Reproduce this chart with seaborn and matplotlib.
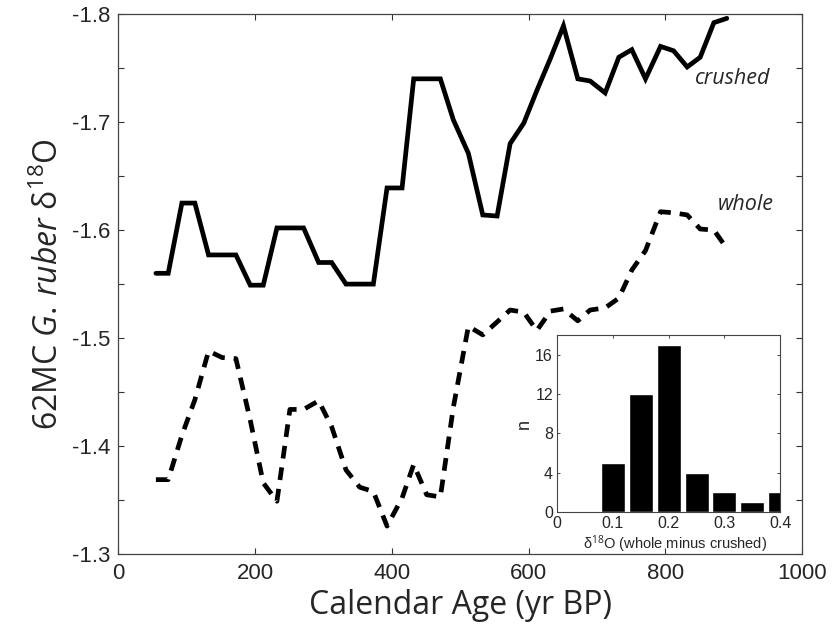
import matplotlib
matplotlib.use("Agg")
import matplotlib.pyplot as plt
from matplotlib.ticker import MultipleLocator, FixedLocator
import seaborn as sns
import pandas as pd

# Calendar age (yr BP) of each sample
age = [55, 73, 93, 112, 132, 152, 172, 193, 212, 232, 251, 271, 293, 312, 333,
       353, 373, 393, 415, 432, 451, 471, 490, 512, 533, 554, 573, 593, 612, 632,
       651, 672, 690, 712, 732, 751, 771, 793, 812, 832, 851, 871, 890]

# G. ruber d18O, crushed shells
crushed = [-1.560, -1.560, -1.625, -1.625, -1.577, -1.577, -1.577, -1.549, -1.549,
           -1.602, -1.602, -1.602, -1.570, -1.570, -1.550, -1.550, -1.550, -1.639,
           -1.639, -1.740, -1.740, -1.740, -1.702, -1.671, -1.614, -1.613, -1.680,
           -1.699, -1.729, -1.759, -1.789, -1.740, -1.738, -1.727, -1.760, -1.767,
           -1.740, -1.770, -1.766, -1.751, -1.760, -1.792, -1.796]

# G. ruber d18O, whole shells
whole = [-1.369, -1.369, -1.410, -1.443, -1.488, -1.482, -1.481, -1.424, -1.366,
         -1.349, -1.434, -1.434, -1.442, -1.418, -1.378, -1.362, -1.358, -1.326,
         -1.352, -1.383, -1.355, -1.353, -1.436, -1.511, -1.503, -1.515, -1.526,
         -1.524, -1.507, -1.525, -1.527, -1.516, -1.526, -1.528, -1.537, -1.563,
         -1.581, -1.617, -1.616, -1.614, -1.601, -1.600, -1.583]

# Histogram of whole minus crushed differences
diff_bins = [0.10, 0.15, 0.20, 0.25, 0.30, 0.35, 0.40]
diff_counts = [5, 12, 17, 4, 2, 1, 2]

x_ticks = [0, 200, 400, 600, 800, 1000]
y_ticks = [-1.8, -1.7, -1.6, -1.5, -1.4, -1.3]
inset_xticks = [0, 0.1, 0.2, 0.3, 0.4]
inset_yticks = [0, 4, 8, 12, 16]

sns.set_style("ticks")
plt.rcParams["font.family"] = ["Liberation Sans", "DejaVu Sans"]
plt.rcParams["axes.unicode_minus"] = False
plt.rcParams["mathtext.fontset"] = "custom"
plt.rcParams["mathtext.rm"] = "Open Sans"
plt.rcParams["mathtext.it"] = "Open Sans:italic"

df = pd.DataFrame({"age": age, "crushed": crushed, "whole": whole})

fig = plt.figure(figsize=(8.39, 6.37), dpi=100)
ax = fig.add_axes([0.141, 0.130, 0.815, 0.848])

sns.lineplot(data=df, x="age", y="crushed", color="black", lw=3.4,
             solid_joinstyle="miter", ax=ax)
sns.lineplot(data=df, x="age", y="whole", color="black", lw=3.4, ax=ax)
ax.lines[-1].set_dashes((2.7, 1.9))

ax.set_xlim(0, 1000)
ax.set_ylim(-1.3, -1.8)
ax.xaxis.set_major_locator(FixedLocator(x_ticks))
ax.yaxis.set_major_locator(FixedLocator(y_ticks))
ax.yaxis.set_minor_locator(MultipleLocator(0.05))
ax.set_yticklabels([f"{v:.1f}" for v in y_ticks])
ax.tick_params(which="both", direction="in", top=True, right=True,
               length=4.5, width=0.8, color="#333333")
ax.tick_params(which="major", labelsize=16, pad=6)
for s in ax.spines.values():
    s.set_linewidth(0.9)
    s.set_color("#444444")
    s.set_visible(True)

ax.set_xlabel("Calendar Age (yr BP)", fontfamily="Open Sans", fontsize=23,
              labelpad=4)
ax.set_ylabel(r"62MC $\mathit{G.\,ruber}$ δ$^{\mathrm{18}}$O",
              fontfamily="Open Sans", fontsize=23, labelpad=4)

ax.text(899, -1.740, "crushed", fontfamily="Open Sans", fontstyle="italic",
        fontsize=15.5, ha="center", va="center")
ax.text(918, -1.624, "whole", fontfamily="Open Sans", fontstyle="italic",
        fontsize=15.5, ha="center", va="center")

# Inset: distribution of the whole - crushed offset
ins = fig.add_axes([0.664, 0.196, 0.266, 0.278])
sns.barplot(x=diff_bins, y=diff_counts, native_scale=True, width=0.86,
            color="black", saturation=1, errorbar=None, ax=ins)
ins.set_xlim(0, 0.4)
ins.set_ylim(0, 18)
ins.xaxis.set_major_locator(FixedLocator(inset_xticks))
ins.yaxis.set_major_locator(FixedLocator(inset_yticks))
ins.set_xticklabels(["0", "0.1", "0.2", "0.3", "0.4"])
ins.tick_params(direction="in", top=True, right=True, length=2.5,
                width=0.6, labelsize=11.5, pad=3)
for s in ins.spines.values():
    s.set_linewidth(0.8)
    s.set_color("#444444")
ins.set_xlabel("δ$^{18}$O (whole minus crushed)", fontsize=10.5, labelpad=2)
ins.xaxis.set_label_coords(0.53, -0.12)
ins.set_ylabel("n", fontsize=13, labelpad=2)

fig.savefig("out.png", dpi=100)
